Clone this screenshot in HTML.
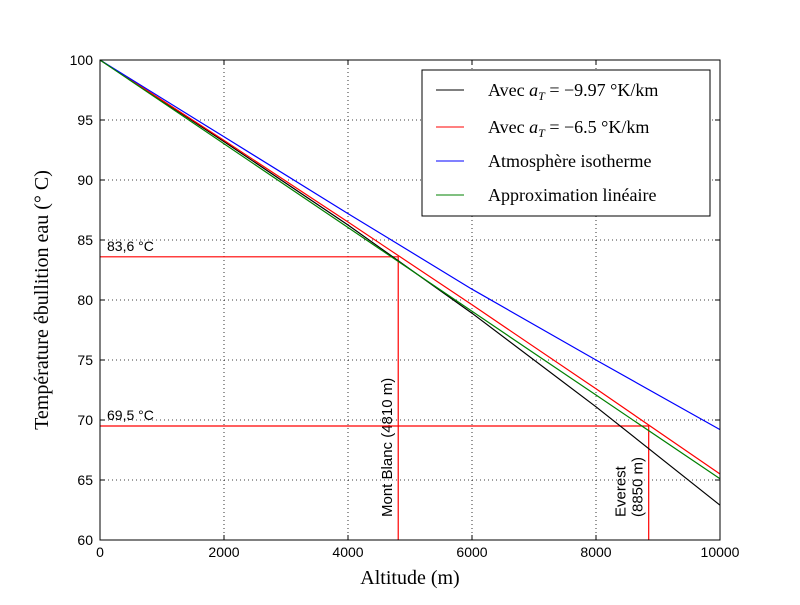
<!DOCTYPE html>
<html><head><meta charset="utf-8"><style>
body{margin:0;background:#fff}
svg text{font-family:"Liberation Sans","DejaVu Sans",sans-serif}
.serif{font-family:"Liberation Serif","DejaVu Serif",serif}
</style></head><body>
<svg id="chart" width="800" height="600" xmlns="http://www.w3.org/2000/svg">
<rect width="800" height="600" fill="#fff"/>
<g id="grid"></g>
<g id="annot"></g>
<g id="series"></g>
<rect x="100" y="60" width="620" height="480" fill="none" stroke="#000" stroke-width="1"/>
<g id="ticks"></g>
<text class="serif" x="410" y="584" font-size="20" text-anchor="middle">Altitude (m)</text>
<text class="serif" transform="translate(48,300) rotate(-90)" font-size="20" text-anchor="middle">Température ébullition eau (° C)</text>
<g>
<rect x="422" y="70" width="288" height="146" fill="#fff" stroke="#000"/>
<line x1="436" y1="90" x2="464" y2="90" stroke="#000"/><text class="serif" x="488" y="96" font-size="18">Avec <tspan font-style="italic">a</tspan><tspan font-style="italic" font-size="12" dy="4">T</tspan><tspan dy="-4"> = −9.97 °K/km</tspan></text>
<line x1="436" y1="127" x2="464" y2="127" stroke="#f00"/><text class="serif" x="488" y="133" font-size="18">Avec <tspan font-style="italic">a</tspan><tspan font-style="italic" font-size="12" dy="4">T</tspan><tspan dy="-4"> = −6.5 °K/km</tspan></text>
<line x1="436" y1="161" x2="464" y2="161" stroke="#00f"/><text class="serif" x="488" y="167" font-size="18">Atmosphère isotherme</text>
<line x1="436" y1="195" x2="464" y2="195" stroke="#008000"/><text class="serif" x="488" y="201" font-size="18">Approximation linéaire</text>
</g>
</svg>
<script>
const altitudes=[0,2000,4000,6000,8000,10000];
const blackVals=[100,93.2,86.25,78.9,71.1,62.9];
const redVals=[100,93.3,86.5,79.6,72.6,65.5];
const blueVals=[100,93.6,87.2,80.9,75.0,69.2];
const greenVals=[100,93.02,86.04,79.06,72.08,65.1];
const xTicks=[0,2000,4000,6000,8000,10000];
const yTicks=[60,65,70,75,80,85,90,95,100];
const sites=[4810,8850];
const siteTemps=[83.6,69.5];
const siteTempLabels=["83,6 °C","69,5 °C"];
const siteNames=[["Mont Blanc (4810 m)"],["Everest","(8850 m)"]];
const NS="http://www.w3.org/2000/svg";
const X=v=>100+v/10000*620, Y=v=>540-(v-60)*12;
function mk(t,a,p){const e=document.createElementNS(NS,t);for(const k in a)e.setAttribute(k,a[k]);p.appendChild(e);return e;}
const g=document.getElementById('grid'),tk=document.getElementById('ticks'),an=document.getElementById('annot'),se=document.getElementById('series');
xTicks.forEach(v=>{
 const l=mk('line',{x1:X(v),x2:X(v),y1:60,y2:540,stroke:'#000','stroke-dasharray':'1,3','stroke-width':0.8},g);
 
 
 mk('line',{x1:X(v),x2:X(v),y1:540,y2:535,stroke:'#000'},tk);mk('line',{x1:X(v),x2:X(v),y1:60,y2:65,stroke:'#000'},tk);
 const t=mk('text',{x:X(v),y:557,'font-size':14,'text-anchor':'middle'},tk);t.textContent=v;
 
 
});
yTicks.forEach(v=>{
 const l=mk('line',{x1:100,x2:720,y1:Y(v),y2:Y(v),stroke:'#000','stroke-dasharray':'1,3','stroke-width':0.8},g);
 
 
 mk('line',{x1:100,x2:105,y1:Y(v),y2:Y(v),stroke:'#000'},tk);mk('line',{x1:715,x2:720,y1:Y(v),y2:Y(v),stroke:'#000'},tk);
 const t=mk('text',{x:93,y:Y(v)+5,'font-size':14,'text-anchor':'end'},tk);t.textContent=v;
 
 
});
sites.forEach((s,i)=>{
 const p=mk('polyline',{points:`${X(0)},${Y(siteTemps[i])} ${X(s)},${Y(siteTemps[i])} ${X(s)},${Y(60)}`,fill:'none',stroke:'#f00','stroke-width':1.2},an);
 
 
 const t=mk('text',{x:107,y:Y(siteTemps[i])-6,'font-size':14},an);t.textContent=siteTempLabels[i];
 
 
 const n=siteNames[i];
 n.forEach((ln,j)=>{
  const xx=X(s)-6-(n.length-1-j)*17;
  const tt=mk('text',{transform:`translate(${xx},517) rotate(-90)`,'font-size':15},an);tt.textContent=ln;
  
  
 });
});
[[blackVals,'#000','series-black'],[redVals,'#f00','series-red'],[blueVals,'#00f','series-blue'],[greenVals,'#008000','series-green']].forEach(([d,c,n])=>{
 const p=mk('polyline',{points:d.map((v,i)=>X(altitudes[i])+','+Y(v)).join(' '),fill:'none',stroke:c,'stroke-width':1.2},se);
 
 
});
</script>
</body></html>
